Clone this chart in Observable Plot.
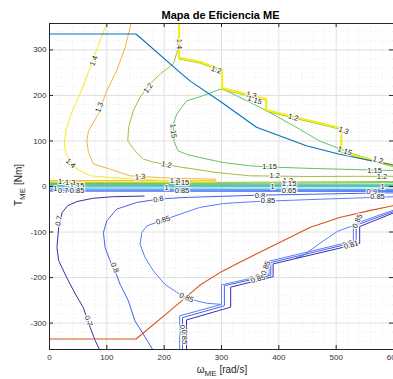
<!DOCTYPE html>
<html><head><meta charset="utf-8">
<script src="https://cdn.jsdelivr.net/npm/d3@7"></script>
<script src="https://cdn.jsdelivr.net/npm/@observablehq/plot@0.6"></script>
<style>
html,body{margin:0;padding:0;background:#fff;overflow:hidden;}
</style></head><body><div id="chart"></div>
<script>
// ---- axis ticks ----
const xTicks = [0,100,200,300,400,500,600];
const yTicks = [-300,-200,-100,0,100,200,300];

// ---- contour lines [omega, torque] ----
const c14 = [[100,358],[88,320],[71,261],[53,203],[38,160],[29,125],[26,97],[28,75],[33,62],[48,38],[71,23.5],[106,19.8],[150,16],[220,12.5],[290,11]];
const c13 = [[142,358],[132,305],[117,254],[100,210],[85,159],[68,122],[65,100],[68,75],[77,49],[106,38],[140,23.5],[170,21],[230,17.5],[290,16]];
const c12 = [[226,309],[216,269],[193,247],[175,225],[158,196],[146,166],[138,130],[136.5,100],[149,78.5],[164,60],[180,54],[204,47.7],[233,41.8],[291,30.8],[349,23.5],[448,22],[535,22.4],[600,22.4]];
const c115 = [[600,35],[535,37],[448,40],[384,43],[349,45.5],[303,52.7],[262,63.7],[241,69.7],[224,78.5],[217,100],[216,137],[222,159],[239,188],[262,197],[301,215],[378,167],[436,126],[471,100],[500,86],[529,72],[600,44]];
const stairTop = [[226,358],[226,283],[262,274],[301,256],[301,216],[378,192],[378,168],[509,128],[509,75],[600,46]];
// lines squeezed around zero torque
const z14 = [[0,10.5],[150,10],[290,9.5]];
const z13 = [[0,13],[150,13],[290,12.5]];
const z12 = [[0,8.5],[300,9],[600,11]];
const z115 = [[0,6.5],[300,7],[600,8.5]];
const z11 = [[0,4.5],[600,5]];
const z105 = [[0,2.5],[600,2.5]];
const z1 = [[0,-1],[600,-0.5]];
const z095 = [[0,-5.5],[600,-6]];
const z09 = [[0,-8],[600,-8.5]];
const z085 = [[0,-10.5],[600,-11]];
// generating side
const c085 = [[600,-22.6],[477,-27.7],[361,-33],[303,-37.4],[262,-46],[228,-60.7],[198,-73.8],[170,-86.4],[161,-101],[158,-126.6],[166.6,-156],[181,-185],[201,-214.5],[222.5,-233],[239,-244],[256.6,-251.2],[274,-256.3],[300,-259]];
const c085b = [[430,-157],[442,-152],[477,-120],[503,-98],[532,-85]];
const c08 = [[600,-14],[563,-14.5],[367,-19],[233,-24.2],[190,-27.7],[152,-35.2],[117,-49.7],[100,-75.4],[94,-101],[97,-134],[105.7,-163.3],[114.4,-185.3],[123,-214.5],[137.5,-251.2],[149,-295],[163.6,-324.4],[180,-358]];
const c07 = [[165,-21],[110,-22.5],[75,-26],[48,-33],[32,-42],[22,-57],[16,-90],[13,-134],[16,-163],[30,-200],[45,-236],[59,-266],[71,-310],[80,-339],[87,-358]];
const b085 = [[227,-358],[227,-284],[300,-259],[300,-216],[383,-193],[383,-164],[530,-120],[530,-83],[600,-52]];
const b08 = [[232,-358],[232,-288],[305,-262],[305,-218],[386,-195],[386,-167],[535,-122],[535,-85],[600,-55]];
const b07 = [[239,-358],[239,-293],[316,-265],[316,-221],[390,-198],[390,-170],[541,-125],[541,-88],[600,-58]];

// ---- torque limits ----
const tMaxMot = [[0,335],[151,335],[228,250],[245,232],[300,185],[361,130],[448,89.5],[506,71],[558,57.6],[600,47]];
const tMaxGen = [[0,-335],[151,-335],[210,-273],[262,-217],[300,-187],[326,-170],[372,-141],[419,-112],[454,-90],[506,-68],[558,-53],[600,-42]];

// ---- contour labels [text, omega, torque, angle] ----
const labels = [
 ["1.4",77,276,-68],["1.4",37,51,42],["1.3",87,174,-70],["1.3",158,21.5,-3],
 ["1.2",172,216,-53],["1.2",204,48,11],["1.15",216,122,84],["1.4",226,313,90],
 ["1.2",291,256,20],["1.3",352,201,15],["1.15",358,190,18],["1.2",425,152,17],
 ["1.3",513,123,20],["1.15",515,78,20],["1.2",573,58,17],
 ["1.15",384,43,0],["1.2",393,23.5,0],["1.15",567,35,0],["1.2",580,21,0],
 ["1.3",416,12,0],["1.15",418,7,0],["1",389,0,0],["0.85",418,-8,0],["0.65",418,-10,0],
 ["0.8",367,-19,0],["0.85",381,-31,0],["1",581,0,0],["0.9",562,-12,0],["0.85",572,-22,0],
 ["1.3",219,13,0],["1.15",231,8,0],["1",204,-3,0],["0.85",231,-9.5,0],["0.8",190,-27.7,-10],
 ["1.4",24,10,0],["1.3",36,9,0],["1.15",48,2,0],["1",10,-4,0],["0.7",24,-9.5,0],["0.85",48,-9.5,0],
 ["0.7",16,-75,-78],["0.7",68,-295,72],["0.8",114,-178,67],["0.85",198,-74,-19],["0.85",239,-244,22],
 ["0.8",232,-315,90],["0.85",236,-330,90],["0.8",358,-201,-16],["0.85",364,-203,-16],["0.85",377,-179,-70],
 ["0.8",520,-126,-16],["0.81",526,-128,-16],["0.85",537,-76,-65]
];

// ---- styles ----
const col = {
  "0.7":"#3d2ea6","0.8":"#4660f0","0.85":"#5a80f7","0.9":"#3b72f0","0.95":"#2a90e6",
  "1":"#1eb5cf","1.05":"#30c0aa","1.1":"#55c57c","1.15":"#62c465","1.2":"#a8bd3a",
  "1.3":"#f8b23c","1.4":"#f4ec1c"
};
const contours = [
  [z085,"0.85"],[z09,"0.9"],[z095,"0.95"],[z1,"1"],[z105,"1.05"],[z11,"1.1"],[z115,"1.15"],[z12,"1.2"],[z14,"1.4"],[z13,"1.3"],
  [c14,"1.4"],[c13,"1.3"],[c12,"1.2"],[c115,"1.15"],
  [c085,"0.85"],[c085b,"0.85"],[c08,"0.8"],[c07,"0.7"],
  [b085,"0.85"],[b08,"0.8"],[b07,"0.7"]
];

const W = 393, H = 379, mL = 49, mR = 0, mT = 23, mB = 30;
const fw = W - mL - mR, fh = H - mT - mB;
const xMinor = d3.range(0, 601, 20).filter(v => v % 100 !== 0);
const yMinor = d3.range(-340, 341, 20).filter(v => v % 100 !== 0);
const px = {x: d => d[0], y: d => d[1]};

const marks = [
  Plot.ruleX(xMinor, {stroke:"#d6d6d6", strokeWidth:0.5, strokeDasharray:"1,2.5"}),
  Plot.ruleY(yMinor, {stroke:"#d6d6d6", strokeWidth:0.5, strokeDasharray:"1,2.5"}),
  Plot.ruleX(xTicks, {stroke:"#e0e0e0", strokeWidth:1}),
  Plot.ruleY(yTicks, {stroke:"#e0e0e0", strokeWidth:1}),
  ...contours.map(([pts, lv]) => Plot.line(pts, {...px, stroke: col[lv], strokeWidth: 1})),
  Plot.line(stairTop, {...px, stroke: col["1.2"], strokeWidth: 1, dy: 1.3}),
  Plot.line(stairTop, {...px, stroke: col["1.4"], strokeWidth: 2.2}),
  Plot.line(tMaxMot, {...px, stroke: "#0072bd", strokeWidth: 1.1}),
  Plot.line(tMaxGen, {...px, stroke: "#d95319", strokeWidth: 1.1}),
  Plot.text(labels, {x: d => d[1], y: d => d[2], text: d => d[0], rotate: d => d[3],
    fontSize: 7.5, fill: "#262626", stroke: "white", strokeWidth: 2.2, strokeOpacity: 0.9}),
  Plot.frame({stroke: "#262626", strokeWidth: 1}),
  Plot.ruleX(xTicks, {stroke:"#262626", insetTop: fh - 4}),
  Plot.ruleX(xTicks, {stroke:"#262626", insetBottom: fh - 4}),
  Plot.ruleY(yTicks, {stroke:"#262626", insetRight: fw - 4}),
  Plot.ruleY(yTicks, {stroke:"#262626", insetLeft: fw - 4})
];

const svg = Plot.plot({
  width: W, height: H,
  marginLeft: mL, marginRight: mR, marginTop: mT, marginBottom: mB,
  style: {fontSize: "8px", fontFamily: "'Liberation Sans', Arial, Helvetica, sans-serif", color: "#333", background: "#fff"},
  x: {domain: [0, 600], ticks: xTicks, tickSize: 0, tickPadding: 5, tickFormat: d => String(d), label: null},
  y: {domain: [-358, 358], ticks: yTicks, tickSize: 0, tickPadding: 3, tickFormat: d => String(d), label: null},
  marks
});

const s = d3.select(svg);
const ff = "'Liberation Sans', Arial, Helvetica, sans-serif";
s.append("text").attr("x", mL + fw/2 - 0.5).attr("y", 19)
  .attr("text-anchor","middle").attr("font-family", ff).attr("font-size", 11)
  .attr("font-weight","bold").attr("fill","#000").text("Mapa de Eficiencia ME");
const xl = s.append("text").attr("x", 222).attr("y", 373)
  .attr("text-anchor","middle").attr("font-family", ff).attr("font-size", 10).attr("fill","#262626");
xl.append("tspan").text("ω");
xl.append("tspan").attr("font-size", 8).attr("dy", 3).text("ME");
xl.append("tspan").attr("dy", -3).text(" [rad/s]");
const yl = s.append("text").attr("transform", "translate(22,185) rotate(-90)")
  .attr("text-anchor","middle").attr("font-family", ff).attr("font-size", 10).attr("fill","#262626");
yl.append("tspan").text("T");
yl.append("tspan").attr("font-size", 8).attr("dy", 3).text("ME");
yl.append("tspan").attr("dy", -3).text(" [Nm]");

document.getElementById("chart").appendChild(svg);
</script></body></html>
